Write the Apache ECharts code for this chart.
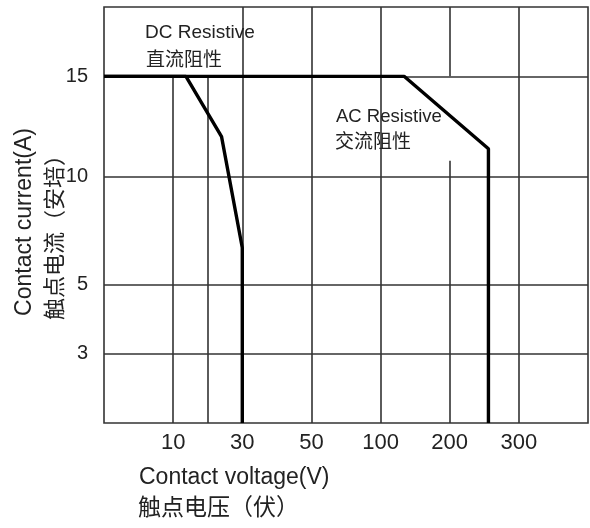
<!DOCTYPE html>
<html>
<head>
<meta charset="utf-8">
<script src="https://cdn.jsdelivr.net/npm/echarts@6/dist/echarts.min.js"></script>
<style>
html,body{margin:0;padding:0;background:#fff;}
#c{width:590px;height:528px;}
</style>
</head>
<body>
<div id="c"></div>
<script>
// ---- Data (volts, amperes) ----
var dcResistive = [[0, 15], [13.7, 15], [24, 12], [30, 6.7], [30, 0]];
var acResistive = [[0, 15], [134, 15], [256, 11.4], [256, 0]];

// ---- Tick labels ----
var xTickLabels = [10, 30, 50, 100, 200, 300];
var yTickLabels = [3, 5, 10, 15];

// ---- The chart's own non-uniform scales (value -> grid step) ----
var xScaleValues = [0, 10, 20, 30, 50, 100, 200, 300, 400];
var xScaleSteps  = [0, 1, 1.5, 2, 3, 4, 5, 6, 7];
var yScaleValues = [0, 3, 5, 10, 15, 20];
var yScaleSteps  = [0, 1, 2, 3.55, 5, 6];

// grid lines (in volts / amperes)
var xGridFull = [30, 50, 100, 300];
var xGridBelow15 = [10, 20];
var yGrid = [3, 5, 10, 15];

function interp(v, xs, ys) {
  for (var i = 0; i < xs.length - 1; i++) {
    if (v <= xs[i + 1]) {
      return ys[i] + (v - xs[i]) / (xs[i + 1] - xs[i]) * (ys[i + 1] - ys[i]);
    }
  }
  return ys[ys.length - 1];
}
function fx(v) { return interp(v, xScaleValues, xScaleSteps); }
function fy(a) { return interp(a, yScaleValues, yScaleSteps); }
function mapPts(arr) { return arr.map(function (p) { return [fx(p[0]), fy(p[1])]; }); }

var xMax = xScaleSteps[xScaleSteps.length - 1];
var yMax = yScaleSteps[yScaleSteps.length - 1];

var gridSegs = [];
xGridFull.forEach(function (v) {
  gridSegs.push([{coord: [fx(v), 0]}, {coord: [fx(v), yMax]}]);
});
xGridBelow15.forEach(function (v) {
  gridSegs.push([{coord: [fx(v), 0]}, {coord: [fx(v), fy(15)]}]);
});
// 200 V line is broken where the AC label sits
gridSegs.push([{coord: [fx(200), fy(15)]}, {coord: [fx(200), yMax]}]);
gridSegs.push([{coord: [fx(200), 0]}, {coord: [fx(200), fy(10.8)]}]);
yGrid.forEach(function (a) {
  gridSegs.push([{coord: [0, fy(a)]}, {coord: [xMax, fy(a)]}]);
});

var xLabelMap = {}, yLabelMap = {};
xTickLabels.forEach(function (v) { xLabelMap[fx(v).toFixed(3)] = String(v); });
yTickLabels.forEach(function (v) { yLabelMap[fy(v).toFixed(3)] = String(v); });

var chart = echarts.init(document.getElementById('c'), null, {renderer: 'canvas'});
var LAT = '"Liberation Sans", Arial, sans-serif';
var CJK = '"Noto Sans CJK SC", sans-serif';

chart.setOption({
  backgroundColor: '#fff',
  animation: false,
  grid: {left: 104, right: 2, top: 7, bottom: 105, show: true, borderColor: '#333', borderWidth: 1.6, backgroundColor: 'transparent'},
  xAxis: {
    type: 'value', min: 0, max: xMax,
    axisLine: {show: false}, axisTick: {show: false}, splitLine: {show: false},
    axisLabel: {
      customValues: xTickLabels.map(fx),
      formatter: function (v) { return xLabelMap[v.toFixed(3)] || ''; },
      fontFamily: LAT, fontSize: 22, color: '#222', margin: 9
    }
  },
  yAxis: {
    type: 'value', min: 0, max: yMax,
    axisLine: {show: false}, axisTick: {show: false}, splitLine: {show: false},
    axisLabel: {
      customValues: yTickLabels.map(fy),
      formatter: function (v) { return yLabelMap[v.toFixed(3)] || ''; },
      fontFamily: LAT, fontSize: 20, color: '#222', margin: 16
    }
  },
  series: [
    {
      name: 'grid', type: 'line', data: [], silent: true,
      markLine: {
        silent: true, symbol: ['none', 'none'], label: {show: false},
        lineStyle: {color: '#333', width: 1.6, type: 'solid'},
        emphasis: {disabled: true},
        data: gridSegs, animation: false
      }
    },
    {
      name: 'DC Resistive', type: 'line', data: mapPts(dcResistive),
      symbol: 'none', lineStyle: {color: '#000', width: 3.4}, z: 5
    },
    {
      name: 'AC Resistive', type: 'line', data: mapPts(acResistive),
      symbol: 'none', lineStyle: {color: '#000', width: 3.4}, z: 5
    }
  ],
  graphic: [
    {type: 'text', left: 145, top: 23, z: 10, style: {text: 'DC Resistive', font: '19px ' + LAT, fill: '#222'}},
    {type: 'text', left: 146, top: 49, z: 10, style: {text: '直流阻性', font: '19px ' + CJK, fill: '#222'}},
    {type: 'text', left: 336, top: 107, z: 10, style: {text: 'AC Resistive', font: '18.5px ' + LAT, fill: '#222'}},
    {type: 'text', left: 335, top: 131, z: 10, style: {text: '交流阻性', font: '19px ' + CJK, fill: '#222'}},
    {type: 'text', left: 139, top: 466, style: {text: 'Contact voltage(V)', font: '23px ' + LAT, fill: '#222'}},
    {type: 'text', left: 138, top: 495, style: {text: '触点电压（伏）', font: '23px ' + CJK, fill: '#222'}},
    {type: 'text', x: 25, y: 222, rotation: Math.PI / 2,
     style: {text: 'Contact current(A)', font: '23px ' + LAT, fill: '#222', align: 'center', verticalAlign: 'middle'}},
    {type: 'text', x: 54, y: 232, rotation: Math.PI / 2,
     style: {text: '触点电流（安培）', font: '22px ' + CJK, fill: '#222', align: 'center', verticalAlign: 'middle'}}
  ]
});
</script>
</body>
</html>
